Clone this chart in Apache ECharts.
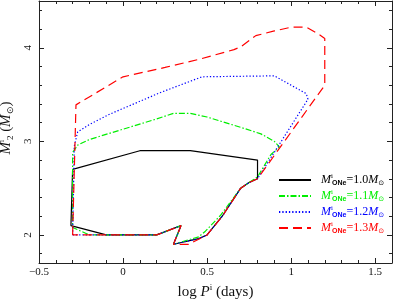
<!DOCTYPE html>
<html>
<head>
<meta charset="utf-8">
<script src="https://cdn.jsdelivr.net/npm/echarts@6/dist/echarts.min.js"></script>
<style>html,body{margin:0;padding:0;background:#fff}#c{width:393px;height:299px}</style>
</head>
<body>
<div id="c"></div>
<script>
// ---- data (log P^i, M2^i) ----
const names = ['1.0', '1.1', '1.2', '1.3'];
const colors = ['#000000', '#00ee00', '#0000ff', '#ff0000'];
const m10 = [[-0.30,2.70],[0.10,2.90],[0.40,2.90],[0.80,2.80],[0.80,2.60],[0.75,2.56],[0.70,2.50],[0.59,2.20],[0.50,2.00],[0.45,1.96],[0.30,1.90],[0.345,2.10],[0.20,2.00],[-0.10,2.00],[-0.31,2.10],[-0.30,2.70]];
const m11 = [[0.20,2.00],[-0.20,2.00],[-0.30,2.08],[-0.30,2.88],[-0.27,2.96],[-0.20,3.02],[0.00,3.13],[0.20,3.24],[0.30,3.30],[0.40,3.30],[0.50,3.26],[0.70,3.15],[0.82,3.08],[0.90,3.00],[0.93,2.94],[0.88,2.86],[0.80,2.62],[0.75,2.56],[0.70,2.50],[0.58,2.21],[0.49,2.04],[0.45,1.98],[0.30,1.90],[0.345,2.10],[0.20,2.00]];
const m12 = [[-0.30,2.00],[-0.29,2.95],[-0.27,3.10],[-0.20,3.18],[-0.08,3.29],[0.22,3.52],[0.47,3.69],[0.90,3.70],[1.09,3.51],[1.10,3.45],[0.80,2.60],[0.75,2.56],[0.70,2.50],[0.59,2.20],[0.50,2.00],[0.45,1.96],[0.30,1.90],[0.345,2.10],[0.20,2.00],[-0.30,2.00]];
const m13 = [[-0.30,2.00],[-0.28,3.39],[0.00,3.69],[0.25,3.79],[0.46,3.88],[0.66,3.98],[0.70,4.01],[0.79,4.13],[0.90,4.18],[1.00,4.22],[1.09,4.22],[1.16,4.15],[1.20,4.10],[1.20,3.60],[0.80,2.60],[0.75,2.56],[0.70,2.50],[0.59,2.20],[0.50,2.00],[0.39,1.90],[0.30,1.90],[0.345,2.10],[0.20,2.00],[-0.30,2.00]];
const xTicks = [-0.5, 0, 0.5, 1, 1.5];
const xMinor = [-0.4,-0.3,-0.2,-0.1,0.1,0.2,0.3,0.4,0.6,0.7,0.8,0.9,1.1,1.2,1.3,1.4,1.6];
const yTicks = [2, 3, 4];
const yMinor = [1.8,2.2,2.4,2.6,2.8,3.2,3.4,3.6,3.8,4.2,4.4];
const xRange = [-0.5, 1.6];
const yRange = [1.7, 4.5];

const FONT = 'Liberation Serif';
const dashes = ['solid', [6,2,1.5,2], [1.3,2], [9,5]];
const series = [m10, m11, m12, m13].map((d, i) => ({
  name: names[i], type: 'line', data: d, symbol: 'none', silent: true,
  xAxisIndex: 0, yAxisIndex: 0, animation: false,
  lineStyle: { color: colors[i], width: 1.2, type: dashes[i] },
  itemStyle: { color: colors[i] }
}));

function xAx(pos, ticks, len, labels, line) {
  return {
    type: 'value', position: pos, min: xRange[0], max: xRange[1],
    axisLine: { show: line, onZero: false, lineStyle: { color: '#222', width: 1 } },
    splitLine: { show: false },
    axisTick: { show: true, inside: true, length: len, customValues: ticks, lineStyle: { color: '#222', width: 1 } },
    axisLabel: { show: labels, customValues: xTicks, margin: 4, fontFamily: FONT, fontSize: 11, color: '#111',
      formatter: v => String(v).replace('-', '\u2212') }
  };
}
function yAx(pos, ticks, len, labels, line) {
  return {
    type: 'value', position: pos, min: yRange[0], max: yRange[1],
    axisLine: { show: line, onZero: false, lineStyle: { color: '#222', width: 1 } },
    splitLine: { show: false },
    axisTick: { show: true, inside: true, length: len, customValues: ticks, lineStyle: { color: '#222', width: 1 } },
    axisLabel: { show: labels, customValues: yTicks, rotate: 90, margin: 5, fontFamily: FONT, fontSize: 11, color: '#111' }
  };
}
const xa = [xAx('bottom', xTicks, 5, true, true), xAx('bottom', xMinor, 3, false, false),
            xAx('top', xTicks, 5, false, true), xAx('top', xMinor, 3, false, false)];
xa[0].name = '{n|log }{it|P}{sup|i}{n| (days)}';
xa[0].nameLocation = 'middle';
xa[0].nameGap = 17;
xa[0].nameTextStyle = { rich: {
  n: { fontFamily: FONT, fontSize: 15, color: '#111', lineHeight: 18 },
  it: { fontFamily: FONT, fontSize: 15, fontStyle: 'italic', color: '#111', lineHeight: 18 },
  sup: { fontFamily: FONT, fontSize: 9, color: '#111', verticalAlign: 'top', lineHeight: 18 }
}};
const ya = [yAx('left', yTicks, 5, true, true), yAx('left', yMinor, 3, false, false),
            yAx('right', yTicks, 5, false, true), yAx('right', yMinor, 3, false, false)];
ya[0].name = '{it|M}{sup|i}{sub|2}{n| (}{it|M}{sub|\u2299}{n|)}';
ya[0].nameLocation = 'middle';
ya[0].nameGap = 19;
ya[0].nameRotate = 90;
ya[0].nameTextStyle = { padding: [0, 0, 0, 8], rich: {
  n: { fontFamily: FONT, fontSize: 15, color: '#111', lineHeight: 18 },
  it: { fontFamily: FONT, fontSize: 15, fontStyle: 'italic', color: '#111', lineHeight: 18 },
  sup: { fontFamily: FONT, fontSize: 9, color: '#111', verticalAlign: 'top', lineHeight: 18, width: 2 },
  sub: { fontFamily: FONT, fontSize: 9, color: '#111', verticalAlign: 'bottom', lineHeight: 18 }
}};

const chart = echarts.init(document.getElementById('c'), null, { renderer: 'canvas' });
chart.setOption({
  animation: false,
  backgroundColor: '#fff',
  grid: { left: 39, top: 1, width: 353, height: 262, containLabel: false, outerBoundsMode: 'none' },
  xAxis: xa,
  yAxis: ya,
  legend: {
    orient: 'vertical', left: 273, top: 168, itemWidth: 32, itemHeight: 14, itemGap: 2,
    selectedMode: false,
    itemStyle: { opacity: 0 },
    data: names.map((n, i) => ({ name: n, textStyle: { color: colors[i] } })),
    formatter: n => '{sp|}{m|M}{sup|i}{sub|ONe}{n|=' + n + '}{m|M}{s2|\u2299}',
    textStyle: { fontFamily: FONT, rich: {
      sp: { width: 5, lineHeight: 14 },
      m: { fontFamily: FONT, fontSize: 12, fontStyle: 'italic', lineHeight: 14 },
      n: { fontFamily: FONT, fontSize: 12, lineHeight: 14 },
      sup: { fontFamily: FONT, fontSize: 7, verticalAlign: 'top', lineHeight: 14, width: 1 },
      sub: { fontFamily: 'Liberation Sans', fontSize: 7, fontWeight: 'bold', verticalAlign: 'bottom', lineHeight: 14 },
      s2: { fontFamily: 'DejaVu Sans', fontSize: 7, verticalAlign: 'bottom', lineHeight: 14 }
    }}
  },
  series: series
});
</script>
</body>
</html>
